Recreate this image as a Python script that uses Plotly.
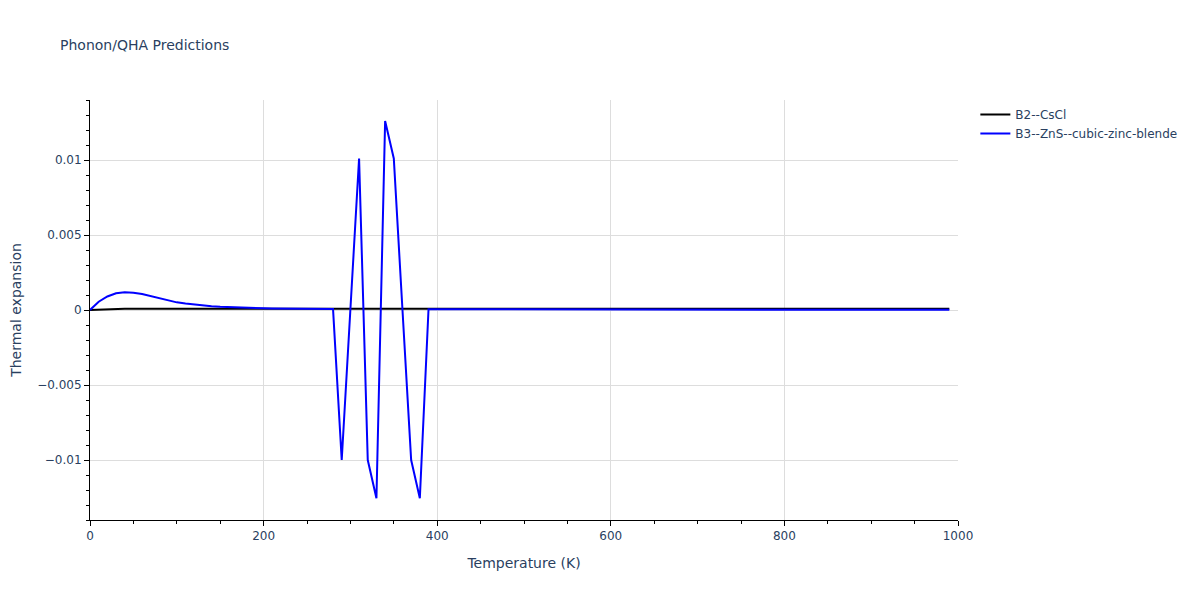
import plotly.graph_objects as go

# B2--CsCl series
b2_temps = [0, 10, 20, 30, 40, 50, 100, 200, 300, 400, 500, 600, 700, 800, 900, 990]
b2_alpha = [0.0, 0.00003, 0.00006, 0.00008, 0.00009, 0.00009, 0.00009, 0.00009, 0.00009,
            0.00009, 0.00009, 0.00009, 0.00009, 0.00009, 0.00009, 0.00009]

# B3--ZnS--cubic-zinc-blende series
b3_temps = [0, 10, 20, 30, 40, 50, 60, 70, 80, 90, 100, 110, 120, 130, 140, 150, 160, 170,
            180, 190, 200, 210, 220, 230, 240, 250, 260, 270, 280, 290, 300, 310, 320, 330,
            340, 350, 360, 370, 380, 390, 400, 450, 500, 600, 700, 800, 900, 990]
b3_alpha = [0.0, 0.00055, 0.0009, 0.00111, 0.00118, 0.00115, 0.00106, 0.00093, 0.00078,
            0.00063, 0.00051, 0.00043, 0.00036, 0.00030, 0.00025, 0.00021, 0.00018, 0.00016,
            0.00014, 0.00012, 0.00011, 0.0001, 0.00009, 0.00009, 0.00008, 0.00008, 0.00007,
            0.00007, 0.00006, -0.0100, 0.0, 0.0101, -0.0100, -0.01255, 0.0126, 0.0101,
            0.0, -0.0100, -0.01255, 0.00005, 0.00005, 0.00004, 0.00004, 0.00003, 0.00003,
            0.00002, 0.00002, 0.00002]

fig = go.Figure()
fig.add_trace(go.Scatter(x=b2_temps, y=b2_alpha, mode="lines", name="B2--CsCl",
                         line=dict(color="black", width=2)))
fig.add_trace(go.Scatter(x=b3_temps, y=b3_alpha, mode="lines", name="B3--ZnS--cubic-zinc-blende",
                         line=dict(color="blue", width=2)))

axis_common = dict(
    showline=True, linecolor="black", linewidth=1,
    ticks="outside", tickcolor="black", ticklen=5,
    showgrid=True, gridcolor="#dddddd", zeroline=False, automargin=False,
    tickfont=dict(color="#2a3f5f", size=12),
    title_font=dict(color="#2a3f5f", size=14),
)

fig.update_layout(
    width=1200, height=600,
    title=dict(text="Phonon/QHA Predictions", x=52 / 1200, xref="container", xanchor="left",
               y=1 - 37 / 600, yref="container", yanchor="middle",
               font=dict(size=14, color="#2a3f5f")),
    font=dict(family="Verdana, 'DejaVu Sans', sans-serif", color="#2a3f5f"),
    plot_bgcolor="white", paper_bgcolor="white",
    margin=dict(l=82, r=250, t=92, b=88),
    legend=dict(x=1.02, y=1, font=dict(size=12)),
    xaxis=dict(title=dict(text="Temperature (K)"), range=[0, 1000], dtick=200,
               minor=dict(ticks="outside", dtick=50, ticklen=3, tickcolor="black", showgrid=False),
               **axis_common),
    yaxis=dict(title=dict(text="Thermal expansion"), range=[-0.014, 0.014], dtick=0.005,
               minor=dict(ticks="outside", dtick=0.001, ticklen=3, tickcolor="black", showgrid=False),
               **axis_common),
)

fig.write_html("out.html")
